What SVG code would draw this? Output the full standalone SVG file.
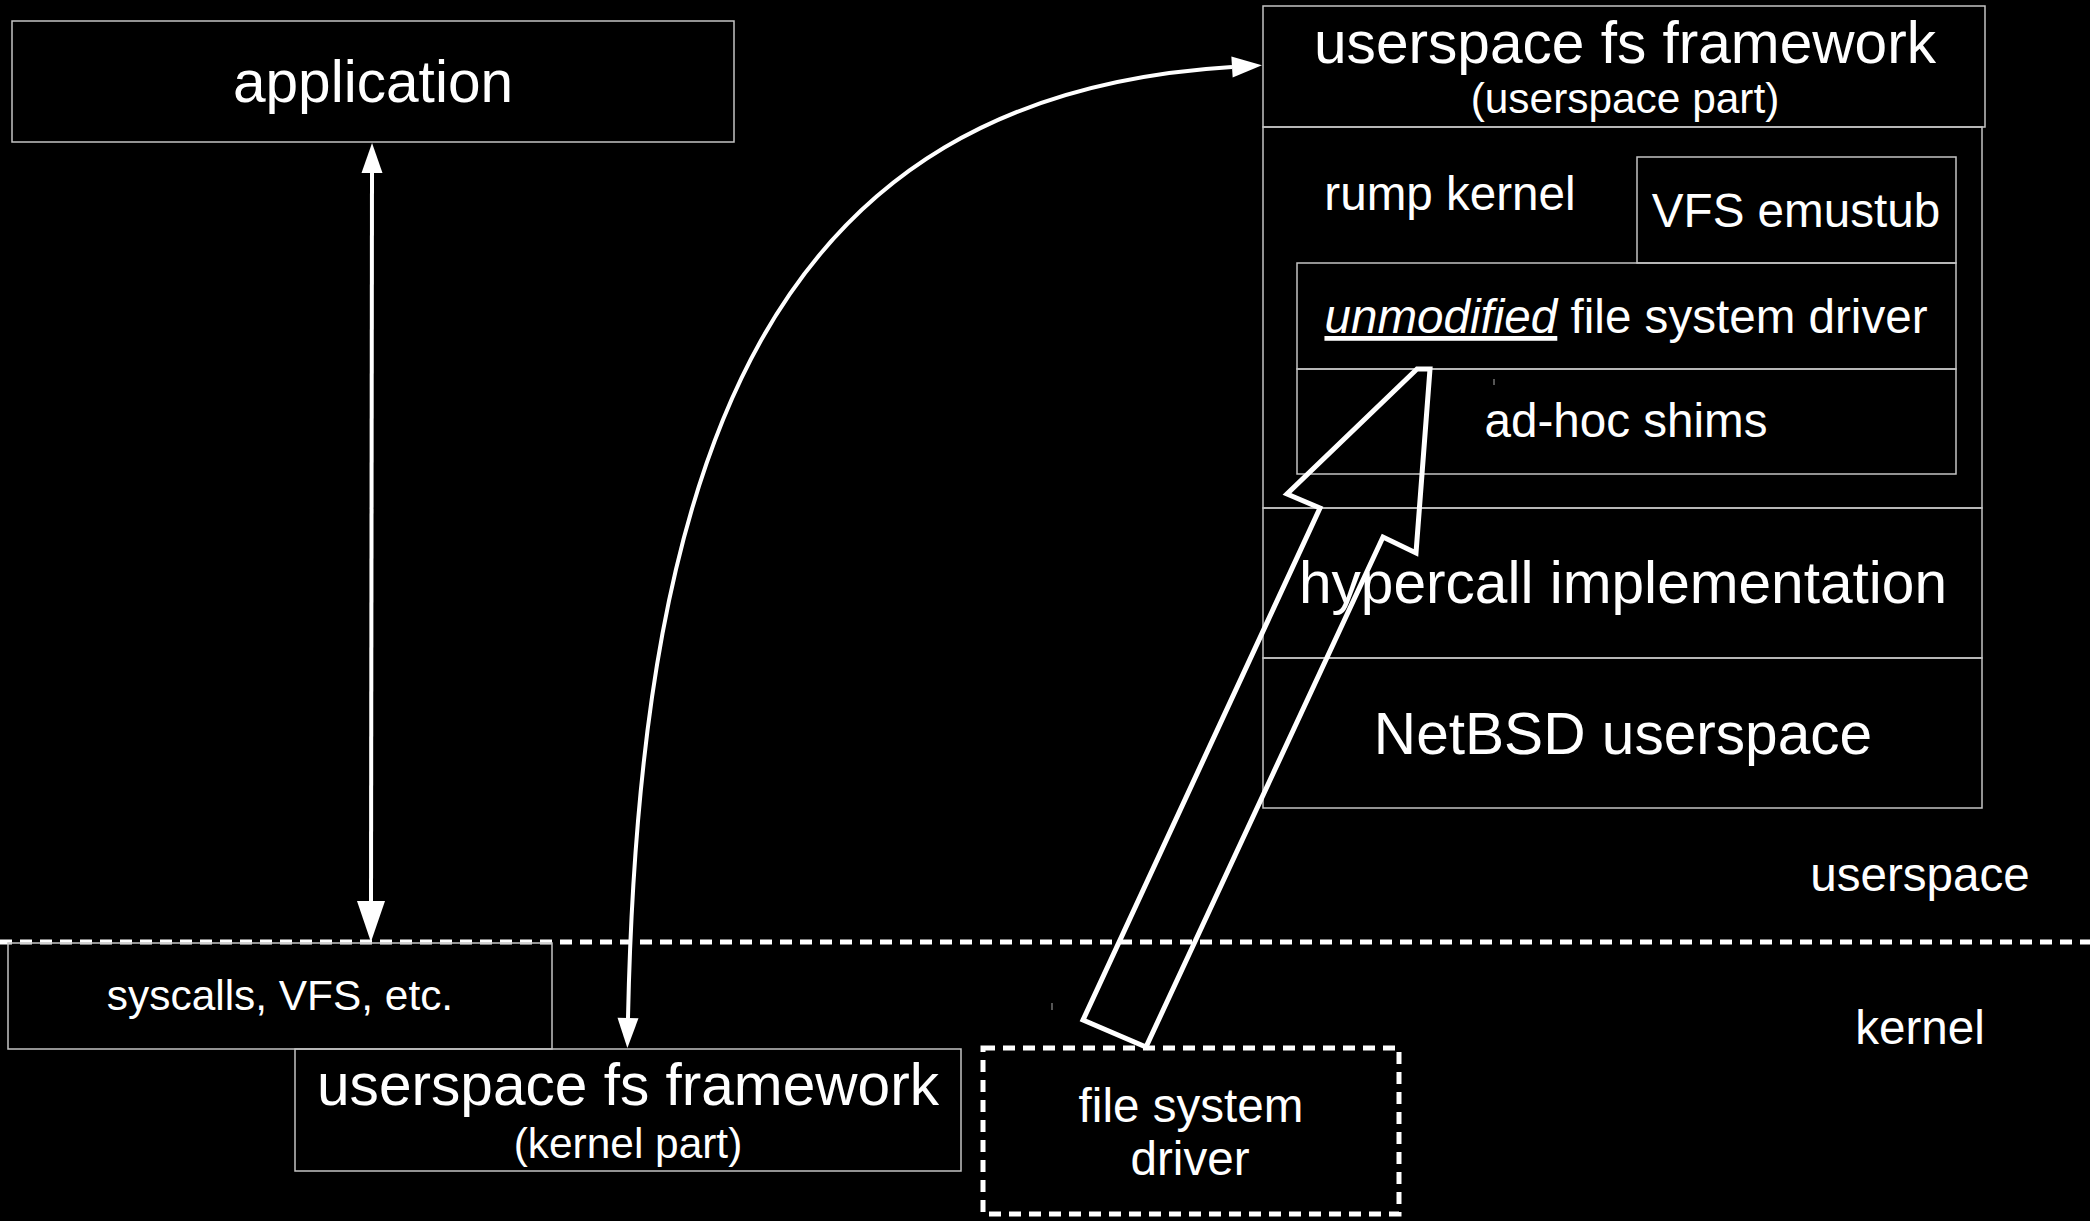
<svg xmlns="http://www.w3.org/2000/svg" width="2090" height="1221" viewBox="0 0 2090 1221">
<style>
.bx{fill:none;stroke:#c4c4c4;stroke-width:1.5}
.t{fill:#fff;font-family:"Liberation Sans",Arial,sans-serif;text-anchor:middle}
.big{font-size:58.6px}
.mid{font-size:47.6px}
.sm{font-size:42.4px}
.ln{fill:none;stroke:#fff;stroke-width:4}
.dash{fill:none;stroke:#fff;stroke-width:5;stroke-dasharray:12 8}
</style>
<defs>
<marker id="ah" markerUnits="userSpaceOnUse" markerWidth="32" markerHeight="22" refX="0" refY="10.5" orient="auto-start-reverse" overflow="visible">
<path d="M0,0 L30,10.5 L0,21 z" fill="#fff"/>
</marker>
<marker id="ahL" markerUnits="userSpaceOnUse" markerWidth="42" markerHeight="29" refX="0" refY="14" orient="auto" overflow="visible">
<path d="M0,0 L41,14 L0,28 z" fill="#fff"/>
</marker>
</defs>
<rect x="0" y="0" width="2090" height="1221" fill="#000"/>

<g id="divider">
<line class="dash" x1="0" y1="942" x2="2090" y2="942"/>
</g>

<g id="application">
<rect class="bx" x="12" y="21" width="722" height="121"/>
<text class="t big" x="373" y="102">application</text>
</g>

<g id="ufs-userspace">
<rect class="bx" x="1263" y="6" width="722" height="121"/>
<text class="t big" x="1625" y="63">userspace fs framework</text>
<text class="t sm" x="1625" y="113">(userspace part)</text>
</g>

<g id="rump-kernel">
<rect class="bx" x="1263" y="127" width="719" height="381"/>
<text class="t mid" x="1450" y="210">rump kernel</text>
</g>

<g id="vfs-emustub">
<rect class="bx" x="1637" y="157" width="319" height="106"/>
<text class="t mid" x="1796" y="227">VFS emustub</text>
</g>

<g id="unmodified-fs">
<rect class="bx" x="1297" y="263" width="659" height="106"/>
<text class="t mid" x="1626" y="333"><tspan font-style="italic" text-decoration="underline">unmodified</tspan> file system driver</text>
</g>

<g id="adhoc-shims">
<rect class="bx" x="1297" y="369" width="659" height="105"/>
<text class="t mid" x="1626" y="437">ad-hoc shims</text>
<line x1="1494" y1="379" x2="1494" y2="385" stroke="#aaa" stroke-width="1"/>
</g>

<g id="hypercall">
<rect class="bx" x="1263" y="508" width="719" height="150"/>
<text class="t big" x="1623" y="603">hypercall implementation</text>
</g>

<g id="netbsd-userspace">
<rect class="bx" x="1263" y="658" width="719" height="150"/>
<text class="t big" x="1623" y="754">NetBSD userspace</text>
</g>

<g id="labels">
<text class="t mid" x="1920" y="891">userspace</text>
<text class="t mid" x="1920" y="1044">kernel</text>
</g>

<g id="syscalls">
<rect class="bx" x="8" y="943" width="544" height="106"/>
<text class="t sm" x="280" y="1010">syscalls, VFS, etc.</text>
</g>

<g id="ufs-kernel">
<rect class="bx" x="295" y="1049" width="666" height="122"/>
<text class="t big" x="628" y="1105">userspace fs framework</text>
<text class="t sm" x="628" y="1158">(kernel part)</text>
</g>

<g id="fs-driver">
<rect class="dash" x="983" y="1048" width="416" height="166"/>
<text class="t mid" x="1191" y="1122">file system</text>
<text class="t mid" x="1190" y="1175">driver</text>
<line x1="1052" y1="1003" x2="1052" y2="1010" stroke="#aaa" stroke-width="1"/>
</g>

<g id="connectors">
<line class="ln" x1="372" y1="173" x2="371" y2="901" marker-start="url(#ah)" marker-end="url(#ahL)"/>
<path class="ln" d="M628,1018 C640,450 770,95 1232,67" marker-start="url(#ah)" marker-end="url(#ah)"/>
<polygon points="1417,369 1287,494 1320,508 1083,1020 1146,1047 1383,537 1416,553 1430,369" fill="none" stroke="#fff" stroke-width="5" stroke-linejoin="miter"/>
</g>
</svg>
